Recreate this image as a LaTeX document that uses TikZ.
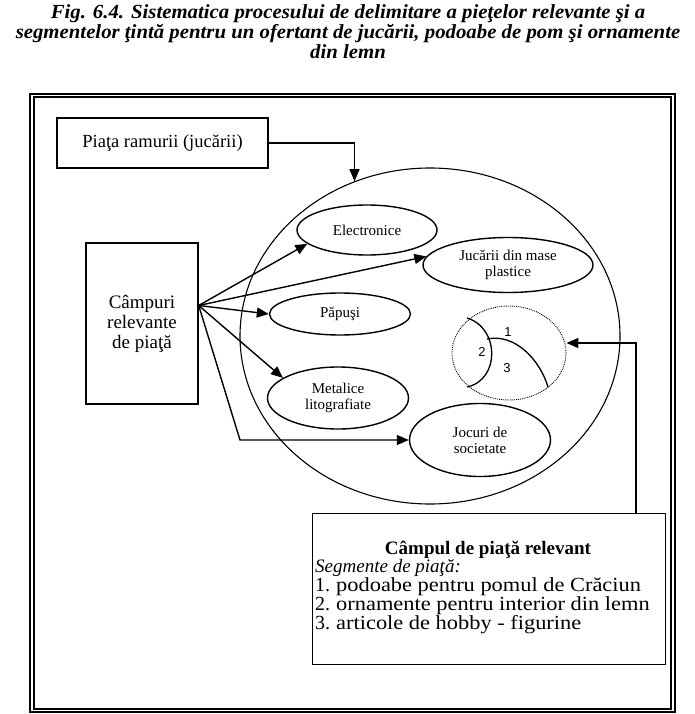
\documentclass[tikz,border=0pt]{standalone}
\usepackage{fontspec}
\setmainfont{Liberation Serif}
\newfontfamily\digitfont{Liberation Sans}
\newfontfamily\listfont[FakeStretch=1.12]{Liberation Serif}
\newfontfamily\capfont[FakeStretch=1.04]{Liberation Serif}
\usetikzlibrary{shapes.geometric,arrows.meta}

\newcommand{\itemno}[1]{\makebox[21pt][l]{\rmfamily\fontsize{20}{19}\selectfont #1}}

\tikzset{
	box/.style={draw, line width=1.4pt, inner sep=0pt},
	field/.style={draw, ellipse, line width=1.4pt, inner sep=0pt, align=center, font=\fontsize{15}{16}\selectfont},
	arr/.style={line width=1.4pt, -{Triangle[length=12pt,width=10pt]}},
	txt/.style={inner sep=0pt, font=\listfont\fontsize{20}{19}\selectfont},
	num/.style={inner sep=0pt, font=\digitfont\fontsize{13}{13}\selectfont},
}

\begin{document}
\begin{tikzpicture}[x=1pt,y=-1pt]
	\useasboundingbox (0,0) rectangle (695,714);
	\node[align=center, font=\capfont\fontsize{20}{20}\selectfont\bfseries\itshape] (title) at (348,32) {Fig. 6.4. Sistematica procesului de delimitare a pieţelor relevante şi a\\segmentelor ţintă pentru un ofertant de jucării, podoabe de pom şi ornamente\\din lemn};
	\draw[line width=1.8pt] (30,94) rectangle (675,712);
	\draw[line width=1.2pt] (34,97) rectangle (671,709);

	\node[box, minimum width=211pt, minimum height=50pt, font=\fontsize{18.5}{19}\selectfont] (ram) at (162.5,143) {Piaţa ramurii (jucării)};
	\node[box, minimum width=112pt, minimum height=161pt, align=center, font=\fontsize{19}{20}\selectfont] (cmp) at (142,323.5) {Câmpuri\\relevante\\de piaţă};
	\node[draw, ellipse, line width=1.1pt, inner sep=0pt, minimum width=380pt, minimum height=336pt] (mkt) at (430,336) {};

	\node[field, minimum width=140pt, minimum height=50pt] (el) at (367,230) {Electronice};
	\node[field, minimum width=170pt, minimum height=55pt] (pl) at (508,265) {Jucării din mase\\plastice};
	\node[field, minimum width=141pt, minimum height=42pt] (pp) at (340,314) {Păpuşi};
	\node[field, minimum width=141pt, minimum height=62pt] (mt) at (338,398) {Metalice\\litografiate};
	\node[field, minimum width=141pt, minimum height=73pt] (jc) at (480,440) {Jocuri de\\societate};

	\node[draw, ellipse, densely dotted, line width=0.9pt, inner sep=0pt, minimum width=114pt, minimum height=94pt] (seg) at (509,353) {};
	\draw[line width=1.3pt] (467,318) .. controls (500,328) and (500,380) .. (467,387);
	\draw[line width=1.3pt] (487,339) .. controls (515,333) and (540,360) .. (548,387);
	\node[num] (n1) at (508,332) {1};
	\node[num] (n2) at (482,352) {2};
	\node[num] (n3) at (507,368) {3};

	\node[box, minimum width=353pt, minimum height=151pt, anchor=north west] (cbx) at (312,513) {};
	\node[inner sep=0pt, font=\fontsize{19}{19}\selectfont\bfseries] (ctit) at (488,550) {Câmpul de piaţă relevant};
	\node[inner sep=0pt, anchor=west, font=\fontsize{19}{19}\selectfont\itshape] (csub) at (315,568) {Segmente de piaţă:};
	\node[txt, anchor=west] (c1) at (315,587) {\itemno{1.}podoabe pentru pomul de Crăciun};
	\node[txt, anchor=west] (c2) at (315,606) {\itemno{2.}ornamente pentru interior din lemn};
	\node[txt, anchor=west] (c3) at (315,625) {\itemno{3.}articole de hobby - figurine};

	\coordinate (src) at ([yshift=18pt]cmp.east);
	\coordinate (bend) at (240,440);
	\coordinate (turn) at (636,343);
	\draw[arr] (ram.east) -| (mkt.116.6);
	\draw[arr] (src) -- (el.193);
	\draw[arr] (src) -- (pl.174);
	\draw[arr] (src) -- (pp.west);
	\draw[arr] (src) -- (mt.160);
	\draw[arr] (src) -- (bend) -- (jc.west);
	\draw[arr] (cbx.north -| turn) -- (turn) -- (seg.east |- turn);
\end{tikzpicture}
\end{document}
